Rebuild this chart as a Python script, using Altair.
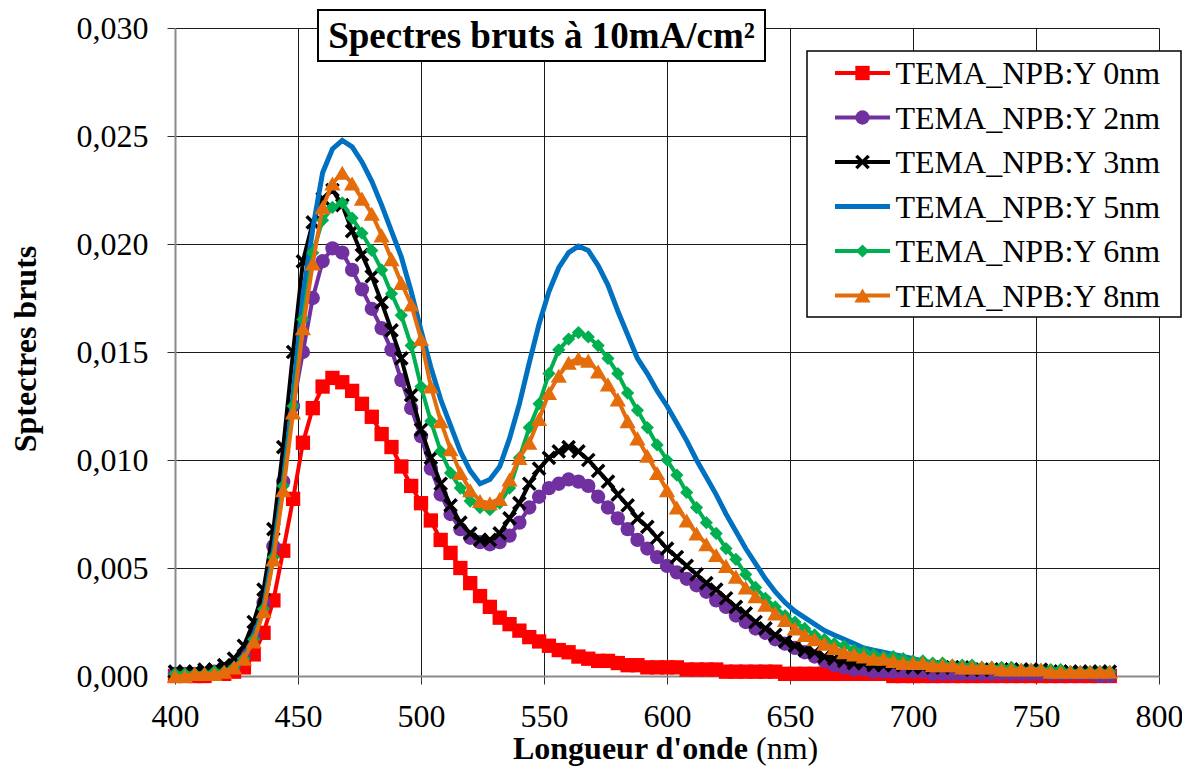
import altair as alt
import pandas as pd

# ---------------- data ----------------
wavelengths = list(range(400, 781, 4))  # 96 points

series_names = [
    "TEMA_NPB:Y 0nm",
    "TEMA_NPB:Y 2nm",
    "TEMA_NPB:Y 3nm",
    "TEMA_NPB:Y 5nm",
    "TEMA_NPB:Y 6nm",
    "TEMA_NPB:Y 8nm",
]

y_0nm = [
    0.0000, 0.0000, 0.0000, 0.0000, 0.0001, 0.0001, 0.0002, 0.0004, 0.0010, 0.0020,
    0.0035, 0.0058, 0.0082, 0.0108, 0.0124, 0.0134, 0.0138, 0.0136, 0.0132, 0.0126,
    0.0120, 0.0112, 0.0106, 0.0097, 0.0088, 0.0080, 0.0072, 0.0063, 0.0057, 0.0050,
    0.0043, 0.0037, 0.0032, 0.0027, 0.0024, 0.0021, 0.0018, 0.0016, 0.0014, 0.0012,
    0.0011, 0.0009, 0.0008, 0.0007, 0.0007, 0.0006, 0.0005, 0.0005, 0.0004, 0.0004,
    0.0004, 0.0004, 0.0003, 0.0003, 0.0003, 0.0003, 0.0002, 0.0002, 0.0002, 0.0002,
    0.0002, 0.0002, 0.0001, 0.0001, 0.0001, 0.0001, 0.0001, 0.0001, 0.0001, 0.0001,
    0.0001, 0.0001, 0.0001, 0.0000, 0.0000, 0.0000, 0.0000, 0.0000, 0.0000, 0.0000,
    0.0000, 0.0000, 0.0000, 0.0000, 0.0000, 0.0000, 0.0000, 0.0000, 0.0000, 0.0000,
    0.0000, 0.0000, 0.0000, 0.0000, 0.0000, 0.0000,
]

y_2nm = [
    0.0001, 0.0001, 0.0001, 0.0001, 0.0002, 0.0003, 0.0005, 0.0010, 0.0019, 0.0034,
    0.0060, 0.0090, 0.0125, 0.0150, 0.0175, 0.0192, 0.0198, 0.0196, 0.0188, 0.0179,
    0.0170, 0.0161, 0.0151, 0.0137, 0.0124, 0.0111, 0.0096, 0.0084, 0.0075, 0.0068,
    0.0064, 0.0062, 0.0061, 0.0062, 0.0065, 0.0071, 0.0078, 0.0083, 0.0087, 0.0089,
    0.0091, 0.0090, 0.0088, 0.0083, 0.0078, 0.0073, 0.0068, 0.0063, 0.0059, 0.0055,
    0.0051, 0.0048, 0.0045, 0.0042, 0.0039, 0.0035, 0.0032, 0.0028, 0.0025, 0.0022,
    0.0020, 0.0017, 0.0015, 0.0013, 0.0011, 0.0009, 0.0007, 0.0005, 0.0004, 0.0003,
    0.0003, 0.0002, 0.0002, 0.0002, 0.0002, 0.0002, 0.0002, 0.0001, 0.0001, 0.0001,
    0.0001, 0.0001, 0.0001, 0.0001, 0.0001, 0.0001, 0.0001, 0.0001, 0.0001, 0.0001,
    0.0001, 0.0001, 0.0001, 0.0001, 0.0000, 0.0000,
]

y_3nm = [
    0.0002, 0.0002, 0.0002, 0.0003, 0.0003, 0.0005, 0.0008, 0.0014, 0.0025, 0.0040,
    0.0068, 0.0106, 0.0150, 0.0192, 0.0210, 0.0221, 0.0225, 0.0218, 0.0206, 0.0195,
    0.0185, 0.0173, 0.0160, 0.0147, 0.0130, 0.0114, 0.0101, 0.0089, 0.0079, 0.0071,
    0.0066, 0.0063, 0.0063, 0.0066, 0.0073, 0.0080, 0.0089, 0.0096, 0.0101, 0.0104,
    0.0106, 0.0104, 0.0100, 0.0095, 0.0090, 0.0084, 0.0079, 0.0073, 0.0069, 0.0064,
    0.0059, 0.0055, 0.0051, 0.0047, 0.0043, 0.0040, 0.0036, 0.0032, 0.0029, 0.0025,
    0.0022, 0.0019, 0.0016, 0.0014, 0.0012, 0.0011, 0.0009, 0.0008, 0.0007, 0.0006,
    0.0006, 0.0005, 0.0005, 0.0005, 0.0005, 0.0004, 0.0004, 0.0004, 0.0004, 0.0004,
    0.0004, 0.0003, 0.0003, 0.0003, 0.0003, 0.0003, 0.0003, 0.0003, 0.0003, 0.0002,
    0.0002, 0.0002, 0.0002, 0.0002, 0.0002, 0.0002,
]

y_5nm = [
    0.0001, 0.0001, 0.0001, 0.0001, 0.0002, 0.0002, 0.0004, 0.0009, 0.0018, 0.0032,
    0.0058, 0.0090, 0.0130, 0.0176, 0.0207, 0.0233, 0.0244, 0.0248, 0.0245, 0.0238,
    0.0229, 0.0218, 0.0206, 0.0194, 0.0178, 0.0160, 0.0143, 0.0128, 0.0116, 0.0104,
    0.0095, 0.0089, 0.0091, 0.0097, 0.0110, 0.0126, 0.0145, 0.0163, 0.0178, 0.0189,
    0.0196, 0.0199, 0.0197, 0.0190, 0.0181, 0.0169, 0.0158, 0.0147, 0.0140, 0.0132,
    0.0125, 0.0117, 0.0109, 0.0100, 0.0092, 0.0084, 0.0075, 0.0067, 0.0059, 0.0052,
    0.0045, 0.0039, 0.0034, 0.0030, 0.0027, 0.0024, 0.0021, 0.0019, 0.0017, 0.0015,
    0.0013, 0.0012, 0.0011, 0.0010, 0.0009, 0.0008, 0.0007, 0.0006, 0.0005, 0.0005,
    0.0004, 0.0004, 0.0003, 0.0003, 0.0003, 0.0002, 0.0002, 0.0002, 0.0002, 0.0002,
    0.0001, 0.0001, 0.0001, 0.0001, 0.0001, 0.0001,
]

y_6nm = [
    0.0001, 0.0001, 0.0001, 0.0001, 0.0002, 0.0002, 0.0004, 0.0008, 0.0017, 0.0031,
    0.0055, 0.0088, 0.0125, 0.0165, 0.0196, 0.0211, 0.0217, 0.0219, 0.0212, 0.0205,
    0.0197, 0.0188, 0.0177, 0.0167, 0.0153, 0.0134, 0.0118, 0.0104, 0.0094, 0.0087,
    0.0081, 0.0078, 0.0077, 0.0080, 0.0087, 0.0101, 0.0115, 0.0126, 0.0140, 0.0151,
    0.0156, 0.0159, 0.0157, 0.0153, 0.0147, 0.0140, 0.0131, 0.0123, 0.0115, 0.0107,
    0.0100, 0.0093, 0.0085, 0.0078, 0.0071, 0.0066, 0.0059, 0.0054, 0.0047, 0.0041,
    0.0036, 0.0032, 0.0028, 0.0025, 0.0022, 0.0019, 0.0017, 0.0015, 0.0014, 0.0012,
    0.0011, 0.0010, 0.0009, 0.0009, 0.0008, 0.0007, 0.0007, 0.0006, 0.0006, 0.0005,
    0.0005, 0.0005, 0.0004, 0.0004, 0.0004, 0.0004, 0.0003, 0.0003, 0.0003, 0.0003,
    0.0003, 0.0002, 0.0002, 0.0002, 0.0002, 0.0002,
]

y_8nm = [
    0.0000, 0.0000, 0.0001, 0.0001, 0.0001, 0.0002, 0.0004, 0.0008, 0.0016, 0.0030,
    0.0054, 0.0086, 0.0122, 0.0161, 0.0191, 0.0217, 0.0228, 0.0233, 0.0228, 0.0221,
    0.0214, 0.0204, 0.0193, 0.0182, 0.0172, 0.0156, 0.0134, 0.0118, 0.0105, 0.0094,
    0.0086, 0.0081, 0.0080, 0.0082, 0.0091, 0.0101, 0.0108, 0.0119, 0.0131, 0.0139,
    0.0145, 0.0147, 0.0146, 0.0141, 0.0135, 0.0128, 0.0118, 0.0110, 0.0102, 0.0094,
    0.0086, 0.0078, 0.0072, 0.0066, 0.0061, 0.0056, 0.0051, 0.0046, 0.0041, 0.0037,
    0.0033, 0.0029, 0.0026, 0.0022, 0.0019, 0.0017, 0.0015, 0.0013, 0.0011, 0.0010,
    0.0009, 0.0008, 0.0008, 0.0007, 0.0006, 0.0006, 0.0006, 0.0005, 0.0005, 0.0005,
    0.0004, 0.0004, 0.0004, 0.0004, 0.0003, 0.0003, 0.0003, 0.0003, 0.0003, 0.0002,
    0.0002, 0.0002, 0.0002, 0.0002, 0.0002, 0.0002,
]

series_values = [y_0nm, y_2nm, y_3nm, y_5nm, y_6nm, y_8nm]

x_ticks = [400, 450, 500, 550, 600, 650, 700, 750, 800]
y_ticks = [0.000, 0.005, 0.010, 0.015, 0.020, 0.025, 0.030]

chart_title = "Spectres bruts à 10mA/cm²"
y_title = "Sptectres bruts"
x_title_bold = "Longueur d'onde"
x_title_unit = "(nm)"

# ---------------- styles ----------------
FONT = "Liberation Serif"
CROSS = "M-1,-1L1,1M-1,1L1,-1"
styles = [
    dict(color="#FF0000", shape="square", size=205, filled=True, sw=0),
    dict(color="#7030A0", shape="circle", size=205, filled=True, sw=0),
    dict(color="#000000", shape=CROSS, size=150, filled=False, sw=3.5),
    dict(color="#0070C0", shape=None, size=0, filled=True, sw=0),
    dict(color="#00B050", shape="diamond", size=175, filled=True, sw=0),
    dict(color="#E46C0A", shape="triangle-up", size=265, filled=True, sw=0),
]

assert all(len(v) == len(wavelengths) for v in series_values)

rows = []
for name, vals in zip(series_names, series_values):
    for nm, v in zip(wavelengths, vals):
        rows.append({"nm": nm, "value": v, "series": name})
df = pd.DataFrame(rows)

W, H = 984, 648

x_enc = alt.X(
    "nm:Q",
    scale=alt.Scale(domain=[400, 800], nice=False, zero=False),
    axis=alt.Axis(
        values=x_ticks, title=None, format="d",
        labelFont=FONT, labelFontSize=32, labelColor="black",
        labelPadding=17, tickSize=8, tickColor="#333333",
        domainColor="#8a8a8a", domainWidth=2,
        gridColor="#1a1a1a", gridWidth=1, labelFlush=False,
    ),
)
y_enc = alt.Y(
    "value:Q",
    scale=alt.Scale(domain=[0, 0.03], nice=False),
    axis=alt.Axis(
        values=y_ticks, title=None,
        labelExpr="replace(format(datum.value, '.3f'), '.', ',')",
        labelFont=FONT, labelFontSize=32, labelColor="black",
        labelPadding=19, tickSize=8, tickColor="#333333",
        domainColor="#8a8a8a", domainWidth=2,
        gridColor="#1a1a1a", gridWidth=1, labelFlush=False,
    ),
)

base = alt.Chart(df).encode(x=x_enc, y=y_enc)

layers = []
for name, st in zip(series_names, styles):
    sub = base.transform_filter(alt.datum.series == name)
    layers.append(sub.mark_line(color=st["color"], strokeWidth=4 if st["shape"] else 5))
    if st["shape"]:
        layers.append(
            sub.mark_point(
                shape=st["shape"], size=st["size"], filled=st["filled"],
                color=st["color"], strokeWidth=st["sw"], opacity=1,
            )
        )

one = pd.DataFrame({"k": [0]})

# title box
layers.append(
    alt.Chart(one).mark_rect(fill="white", stroke="black", strokeWidth=2).encode(
        x=alt.value(143), x2=alt.value(590), y=alt.value(-18), y2=alt.value(33)
    )
)
layers.append(
    alt.Chart(pd.DataFrame({"t": [chart_title]})).mark_text(
        font=FONT, fontSize=37, fontWeight="bold", align="center", baseline="alphabetic", color="black"
    ).encode(x=alt.value(366.5), y=alt.value(20), text="t:N")
)

# axis titles
layers.append(
    alt.Chart(pd.DataFrame({"t": [y_title]})).mark_text(
        font=FONT, fontSize=32, fontWeight="bold", angle=270, align="center", baseline="alphabetic", color="black"
    ).encode(x=alt.value(-139), y=alt.value(321), text="t:N")
)
layers.append(
    alt.Chart(pd.DataFrame({"t": [x_title_bold]})).mark_text(
        font=FONT, fontSize=32, fontWeight="bold", align="right", baseline="alphabetic", color="black"
    ).encode(x=alt.value(573), y=alt.value(731), text="t:N")
)
layers.append(
    alt.Chart(pd.DataFrame({"t": [x_title_unit]})).mark_text(
        font=FONT, fontSize=32, align="left", baseline="alphabetic", color="black"
    ).encode(x=alt.value(581), y=alt.value(731), text="t:N")
)

# legend
layers.append(
    alt.Chart(one).mark_rect(fill="white", stroke="black", strokeWidth=1.5).encode(
        x=alt.value(632), x2=alt.value(1006), y=alt.value(23), y2=alt.value(289)
    )
)
for i, (name, st) in enumerate(zip(series_names, styles)):
    ry = 45 + 44.5 * i
    ldf = pd.DataFrame({"series": [name]})
    layers.append(
        alt.Chart(ldf).mark_rule(color=st["color"], strokeWidth=5 if st["shape"] is None else 4).encode(
            x=alt.value(660), x2=alt.value(715), y=alt.value(ry)
        )
    )
    if st["shape"]:
        layers.append(
            alt.Chart(ldf).mark_point(
                shape=st["shape"], size=st["size"], filled=st["filled"],
                color=st["color"], strokeWidth=st["sw"], opacity=1,
            ).encode(x=alt.value(687.5), y=alt.value(ry))
        )
    layers.append(
        alt.Chart(ldf).mark_text(
            font=FONT, fontSize=32, align="left", baseline="alphabetic", color="black"
        ).encode(x=alt.value(720.5), y=alt.value(ry + 11), text="series:N")
    )

# total svg: 1174 x 760 so the page (with its 8px margins) fits 1190 x 776
chart = (
    alt.layer(*layers)
    .properties(
        width=W, height=H,
        autosize=alt.AutoSizeParams(type="none"),
        padding={"left": 167, "top": 20, "right": 23, "bottom": 92},
        background="white",
    )
    .configure_view(stroke=None)
)

chart.save("out.html", embed_options={"renderer": "svg", "actions": False})
